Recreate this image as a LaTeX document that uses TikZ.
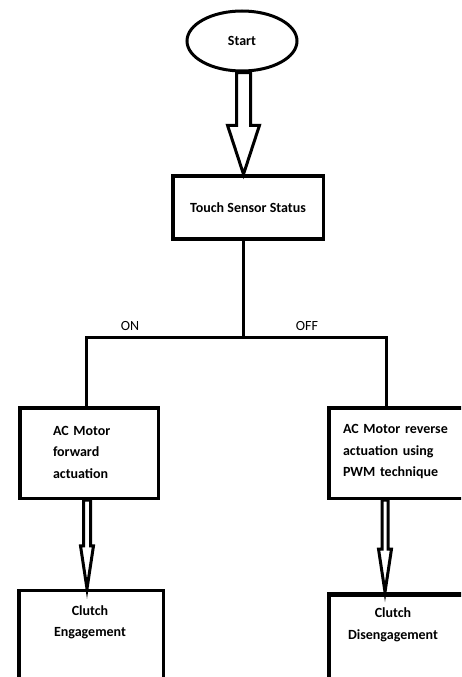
\documentclass[tikz,border=0pt]{standalone}
\usepackage{fontspec}
\setmainfont{Carlito}
\usetikzlibrary{shapes.geometric,calc}
\tikzset{
  boxn/.style={draw, line width=3.5pt, rectangle, inner sep=0pt},
  startn/.style={draw, line width=3pt, ellipse, inner sep=0pt, minimum width=110pt, minimum height=60pt, font=\fontsize{14}{21.5}\selectfont\bfseries},
  txt/.style={font=\fontsize{14}{21.5}\selectfont\bfseries, inner sep=0pt},
  lbl/.style={font=\fontsize{14}{17}\selectfont, inner sep=0pt},
  conn/.style={line width=3pt},
  barrow/.style={draw, line width=3pt, fill=white, line join=miter}
}
\newcommand\blockarr[5]{\draw[barrow] let \p1=(#1), \p2=(#2) in
  (\x2-#3pt,\y1) -- (\x2-#3pt,\y2+#5pt) -- (\x2-#4pt,\y2+#5pt) -- (\x2,\y2)
  -- (\x2+#4pt,\y2+#5pt) -- (\x2+#3pt,\y2+#5pt) -- (\x2+#3pt,\y1) -- cycle;}
\begin{document}
\begin{tikzpicture}[x=1pt,y=-1pt]
\useasboundingbox (0,0) rectangle (461,677);
\clip (0,0) rectangle (461,677);
\fill[white] (0,0) rectangle (461,677);
% nodes
\node[startn] (start) at (242,41) {Start};
\node[boxn, minimum width=150.5pt, minimum height=63pt, txt] (tss) at (248,207.5) {Touch Sensor Status};
\node[boxn, minimum width=138.5pt, minimum height=90.5pt] (fwd) at (89,453) {};
\node[txt, text width=72pt, align=left] (fwdt) at (89,452) {AC Motor\\forward\\actuation};
\node[boxn, minimum width=138.5pt, minimum height=90.5pt] (rev) at (398,453) {};
\node[txt, text width=110pt, align=left] (revt) at (398,452) {AC Motor reverse\\actuation using\\PWM technique};
\node[boxn, minimum width=144.5pt, minimum height=130pt, anchor=north] (ce) at (91,588.75) {};
\node[txt, align=center] (cet) at (90,622.5) {Clutch\\Engagement};
\node[boxn, minimum width=148pt, minimum height=130pt, anchor=north, line width=4.5pt] (cd) at (402.75,592) {};
\node[txt, align=center] (cdt) at (393,625) {Clutch\\Disengagement};
% junctions
\coordinate (j) at (243,337);
\coordinate (jl) at (86,337);
\coordinate (jr) at (386,337);
\node[lbl] (on) at (130,326) {ON};
\node[lbl] (off) at (307,326) {OFF};
% connectors
\draw[conn] (tss.south -| j) -- (j);
\draw[conn] (fwd.north -| jl) -- (jl) -- (jr) -- (rev.north -| jr);
% block arrows
\coordinate (t0) at ($(tss.north)+(-4.5,0)$);
\blockarr{start.south}{t0}{7}{16}{49}
\coordinate (t1) at ($(ce.north)+(-4,0)$);
\blockarr{fwd.south}{t1}{3.5}{6.5}{43}
\coordinate (t2) at ($(cd.north)+(-17.75,0)$);
\blockarr{rev.south}{t2}{3}{6.5}{43}
\end{tikzpicture}
\end{document}
